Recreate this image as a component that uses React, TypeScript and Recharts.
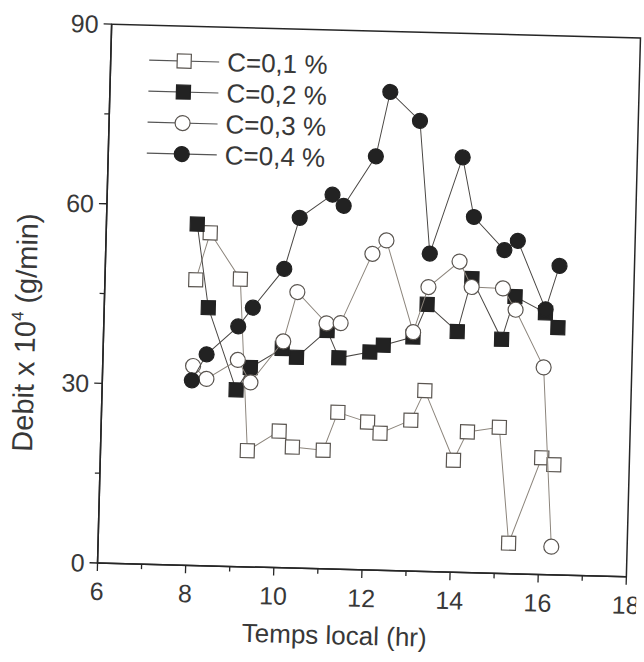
import React from 'react';
import { ScatterChart, Scatter, XAxis, YAxis, Legend, ReferenceArea } from 'recharts';

const FONT = '"Liberation Sans", Arial, Helvetica, sans-serif';
const INK = '#262626';
const TEXT = '#383838';
const LINE_LIGHT = '#8c857c';
const LINE_DARK = '#4a4744';

const seriesNames = ['C=0,1 %', 'C=0,2 %', 'C=0,3 %', 'C=0,4 %'];
const xTicks = [6, 7, 8, 9, 10, 11, 12, 13, 14, 15, 16, 17, 18];
const yTicks = [0, 15, 30, 45, 60, 75, 90];
const xAxisTitle = 'Temps local (hr)';

const time01 = [8.06, 8.36, 9.07, 9.33, 10.04, 10.35, 11.05, 11.36, 12.04, 12.33, 13.02, 13.32, 14.01, 14.31, 15.03, 15.31, 16.01, 16.29];
const debit01 = [47.7, 55.6, 48.0, 19.4, 22.8, 20.2, 19.8, 26.2, 24.7, 22.9, 25.2, 30.2, 18.7, 23.5, 24.4, 5.1, 19.5, 18.4];
const time02 = [8.06, 8.36, 9.04, 9.35, 10.06, 10.39, 11.07, 11.35, 12.05, 12.35, 13.02, 13.32, 14.02, 14.32, 15.03, 15.31, 16.01, 16.3];
const debit02 = [57.0, 43.1, 29.5, 33.3, 36.6, 35.2, 39.8, 35.3, 36.4, 37.6, 39.1, 44.6, 40.2, 49.1, 39.1, 46.3, 43.7, 41.3];
const time03 = [8.05, 8.36, 9.06, 9.36, 10.08, 10.37, 11.05, 11.37, 12.05, 12.36, 13.02, 13.34, 14.03, 14.32, 15.03, 15.33, 16.0, 16.28];
const debit03 = [33.3, 31.2, 34.5, 30.8, 37.8, 46.1, 41.0, 41.1, 52.8, 55.1, 39.9, 47.5, 51.9, 47.7, 47.6, 44.1, 34.6, 4.7];
const time04 = [8.03, 8.35, 9.05, 9.37, 10.06, 10.38, 11.11, 11.37, 12.07, 12.36, 13.05, 13.35, 14.04, 14.33, 15.04, 15.34, 16.01, 16.3];
const debit04 = [30.9, 35.3, 40.1, 43.3, 49.9, 58.5, 62.5, 60.7, 69.1, 79.9, 75.2, 53.1, 69.3, 59.4, 54.0, 55.6, 44.3, 51.6];

const build = (t: number[], v: number[]) => t.map((x, i) => ({ x, y: v[i] }));
const data01 = build(time01, debit01);
const data02 = build(time02, debit02);
const data03 = build(time03, debit03);
const data04 = build(time04, debit04);

type Kind = 'openSquare' | 'square' | 'openCircle' | 'circle';
const kinds: Kind[] = ['openSquare', 'square', 'openCircle', 'circle'];

const Marker = ({ kind, cx, cy }: { kind: Kind; cx: number; cy: number }) => {
  const s = 14;
  if (kind === 'openSquare' || kind === 'square') {
    const filled = kind === 'square';
    return (
      <rect
        x={cx - s / 2}
        y={cy - s / 2}
        width={s}
        height={s}
        fill={filled ? '#222' : '#fff'}
        stroke={filled ? '#222' : '#5a5550'}
        strokeWidth={1.2}
      />
    );
  }
  const filled = kind === 'circle';
  return (
    <circle
      cx={cx}
      cy={cy}
      r={7.5}
      fill={filled ? '#222' : '#fff'}
      stroke={filled ? '#222' : '#5a5550'}
      strokeWidth={1.2}
    />
  );
};

const makeShape = (kind: Kind) => (props: any) => <Marker kind={kind} cx={props.cx} cy={props.cy} />;

const XTick = (props: any) => {
  const { x, y, payload } = props;
  const major = payload.value % 2 === 0;
  return (
    <g>
      <line x1={x} x2={x} y1={y} y2={y + (major ? 8 : 5)} stroke={INK} strokeWidth={1.3} />
      {major && (
        <text x={x} y={y + 37} textAnchor="middle" fontFamily={FONT} fontSize={25} fill={TEXT}>
          {payload.value}
        </text>
      )}
    </g>
  );
};

const YTick = (props: any) => {
  const { x, y, payload } = props;
  const major = payload.value % 30 === 0;
  return (
    <g>
      <line x1={x} x2={x - (major ? 8 : 5)} y1={y} y2={y} stroke={INK} strokeWidth={1.3} />
      {major && (
        <text x={x - 13} y={y + 9} textAnchor="end" fontFamily={FONT} fontSize={25} fill={TEXT}>
          {payload.value}
        </text>
      )}
    </g>
  );
};

const XTitle = (props: any) => {
  const vb = props.viewBox;
  return (
    <text x={vb.x + vb.width / 2 - 26} y={vb.y + 75} textAnchor="middle" fontFamily={FONT} fontSize={26} fill={TEXT}>
      {xAxisTitle}
    </text>
  );
};

const YTitle = (props: any) => {
  const vb = props.viewBox;
  const cx = 36;
  const cy = vb.y + vb.height / 2 + 41;
  return (
    <text
      x={cx}
      y={cy}
      transform={`rotate(-90 ${cx} ${cy})`}
      textAnchor="middle"
      fontFamily={FONT}
      fontSize={29}
      fill={TEXT}
    >
      Debit x 10<tspan fontSize={17} dy={-12}>4</tspan>
      <tspan dy={12}> (g/min)</tspan>
    </text>
  );
};

const LegendContent = () => (
  <svg width={230} height={140} style={{ overflow: 'visible' }}>
    {seriesNames.map((name, i) => {
      const y = 20 + i * 31;
      return (
        <g key={name}>
          <line x1={8} x2={78} y1={y} y2={y} stroke="#555" strokeWidth={1.2} />
          <Marker kind={kinds[i]} cx={43} cy={y} />
          <text x={86} y={y + 9} fontFamily={FONT} fontSize={26} fill={TEXT}>
            {name}
          </text>
        </g>
      );
    })}
  </svg>
);

export default function App() {
  return (
    <div
      style={{
        position: 'absolute',
        left: 0,
        top: 0,
        width: 644,
        height: 662,
        background: '#fff',
        transform: 'rotate(1.5deg)',
        transformOrigin: '369px 300.5px',
      }}
    >
      <ScatterChart width={644} height={662} margin={{ top: 31, right: 10.5, bottom: 0, left: 44.5 }}>
        <XAxis
          type="number"
          dataKey="x"
          domain={[6, 18]}
          ticks={xTicks}
          interval={0}
          height={92}
          tickSize={0}
          tickMargin={0}
          tick={<XTick />}
          axisLine={{ stroke: INK, strokeWidth: 1.5 }}
          label={<XTitle />}
          allowDataOverflow
        />
        <YAxis
          type="number"
          dataKey="y"
          domain={[0, 90]}
          ticks={yTicks}
          interval={0}
          width={60}
          tickSize={0}
          tickMargin={0}
          tick={<YTick />}
          axisLine={{ stroke: INK, strokeWidth: 1.5 }}
          label={<YTitle />}
          allowDataOverflow
        />
        <ReferenceArea x1={6} x2={18} y1={0} y2={90} fill="none" stroke={INK} strokeWidth={1.5} ifOverflow="visible" />
        <Legend
          layout="horizontal"
          verticalAlign="middle"
          align="center"
          content={<LegendContent />}
          wrapperStyle={{ position: 'absolute', left: 135, top: 46, width: 230, height: 140 }}
        />
        <Scatter name={seriesNames[0]} data={data01} shape={makeShape('openSquare')} line={{ stroke: LINE_LIGHT, strokeWidth: 1 }} lineType="joint" isAnimationActive={false} />
        <Scatter name={seriesNames[1]} data={data02} shape={makeShape('square')} line={{ stroke: LINE_DARK, strokeWidth: 1 }} lineType="joint" isAnimationActive={false} />
        <Scatter name={seriesNames[2]} data={data03} shape={makeShape('openCircle')} line={{ stroke: LINE_LIGHT, strokeWidth: 1 }} lineType="joint" isAnimationActive={false} />
        <Scatter name={seriesNames[3]} data={data04} shape={makeShape('circle')} line={{ stroke: LINE_DARK, strokeWidth: 1 }} lineType="joint" isAnimationActive={false} />
      </ScatterChart>
    </div>
  );
}
